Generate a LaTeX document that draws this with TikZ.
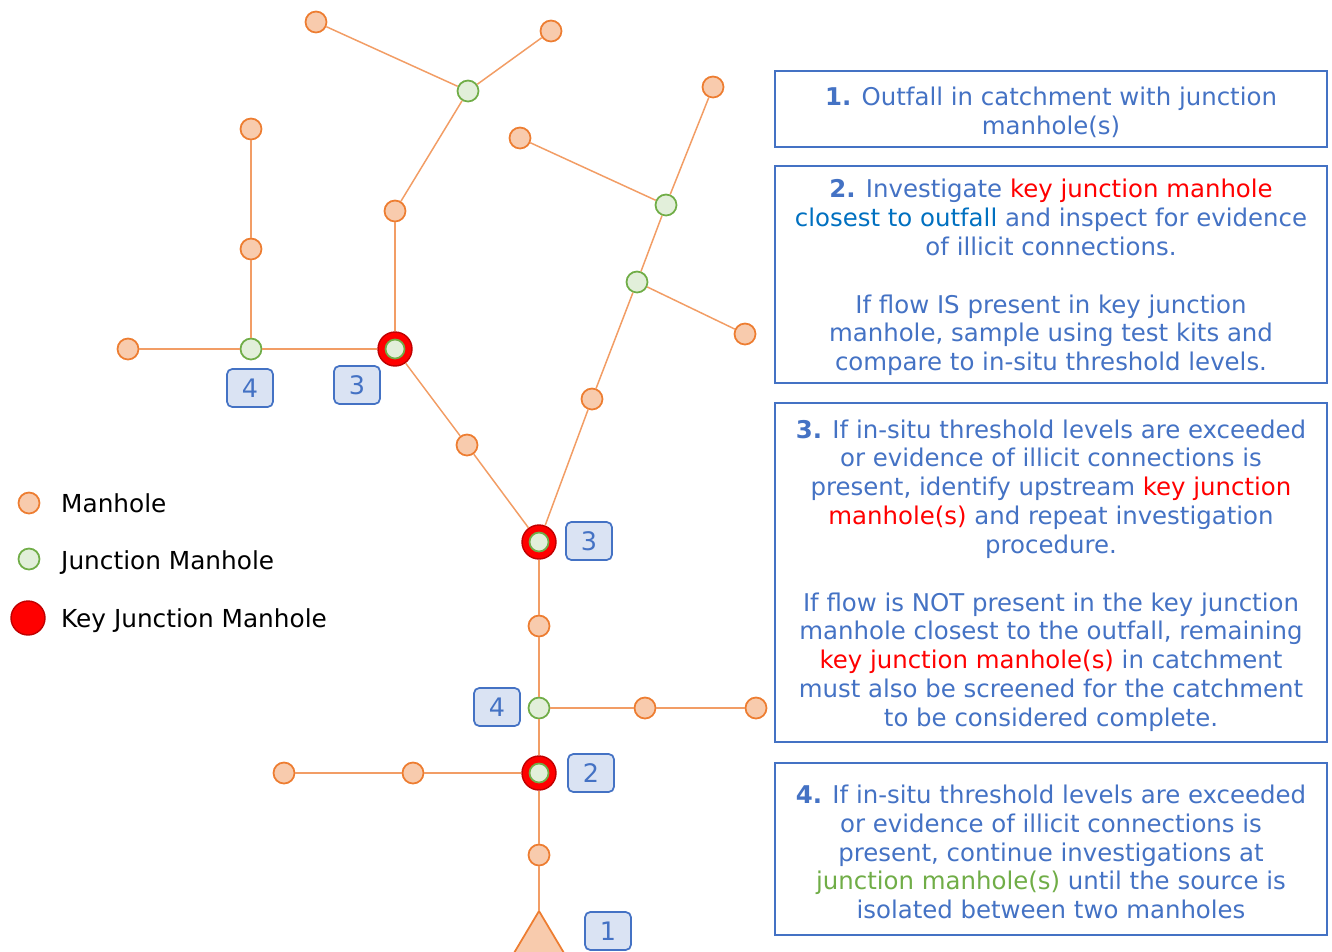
\documentclass[tikz,border=0pt]{standalone}
\usepackage{fontspec}
\setmainfont{DejaVu Sans}
\usetikzlibrary{arrows.meta}
\usetikzlibrary{positioning}

\definecolor{mhorange}{HTML}{ED7D31}
\definecolor{mhfill}{HTML}{F8CBAD}
\definecolor{jngreen}{HTML}{70AD47}
\definecolor{jnfill}{HTML}{E2EFDA}
\definecolor{keyred}{HTML}{FF0000}
\definecolor{keyedge}{HTML}{C00000}
\definecolor{txtblue}{HTML}{4472C4}
\definecolor{badgefill}{HTML}{DAE3F3}
\definecolor{linkblue}{HTML}{0070C0}

\tikzset{
  mh/.style={circle, draw=mhorange, fill=mhfill, line width=1pt, minimum size=0.42cm, inner sep=0pt},
  jn/.style={circle, draw=jngreen, fill=jnfill, line width=1pt, minimum size=0.42cm, inner sep=0pt},
  keymh/.style={circle, draw=keyedge, fill=keyred, line width=0.8pt, minimum size=0.68cm, inner sep=0pt},
  pipe/.style={draw=mhorange!75, line width=0.85pt},
  badge/.style={rectangle, rounded corners=3pt, draw=txtblue, fill=badgefill, line width=1pt,
    minimum width=0.92cm, minimum height=0.76cm, inner sep=0pt, text=txtblue,
    font=\fontsize{14.5}{16}\selectfont},
  stepbox/.style={rectangle, draw=txtblue, line width=1.1pt, minimum width=11.04cm, inner sep=0pt},
  steptext/.style={align=center, inner sep=0pt, text=txtblue, font=\fontsize{13.9}{16.4}\selectfont},
  legtext/.style={anchor=base west, font=\fontsize{14.1}{16}\selectfont}
}

\newcommand{\kjm}[1]{\textcolor{keyred}{#1}}

\begin{document}
\begin{tikzpicture}[>=Stealth, x=0.02cm, y=-0.02cm]
    \useasboundingbox (0,0) rectangle (1332,951);

    % manholes
    \foreach \n/\x/\y in {m1/316/22, m2/551/31, m3/395/211, m4/251/129, m5/251/249,
        m6/128/349, m7/713/87, m8/520/138, m9/745/334, m10/592/399, m11/467/445,
        m12/539/626, m13/645/708, m14/756/708, m15/413/773, m16/284/773, m17/539/855}
        \node[mh] (\n) at (\x,\y) {};

    % junction manholes
    \foreach \n/\x/\y in {j1/468/91, j2/251/349, j3/666/205, j4/637/282, j5/539/708}
        \node[jn] (\n) at (\x,\y) {};

    % key junction manholes
    \foreach \n/\x/\y in {k1/395/349, k2/539/542, k3/539/773} {
        \node[keymh] (\n) at (\x,\y) {};
        \node[jn, minimum size=0.38cm] at (\n) {};
    }

    % outfall
    \coordinate (out) at (539,911);
    \fill[mhfill, draw=mhorange, line width=1pt] (out) -- (564,953) -- (514,953) -- cycle;

    % pipes
    \foreach \a/\b in {m1/j1, m2/j1, j1/m3, m3/k1, k1/j2, j2/m5, m5/m4, j2/m6,
        k1/m11, m11/k2, k2/m10, m10/j4, j4/j3, j3/m7, j3/m8, j4/m9,
        k2/m12, m12/j5, j5/m13, m13/m14, j5/k3, k3/m15, m15/m16, k3/m17}
        \draw[pipe] (\a) -- (\b);
    \draw[pipe] (m17) -- (out);

    % step badges
    \node[badge] (b4a) at (250,388) {4};
    \node[badge] (b3a) at (357,385) {3};
    \node[badge] (b3b) at (589,541) {3};
    \node[badge] (b4b) at (497,707) {4};
    \node[badge] (b2) at (591,773) {2};
    \node[badge] (b1) at (608,931) {1};

    % legend
    \node[mh] (lmh) at (29,503) {};
    \node[jn] (ljn) at (29,559) {};
    \node[keymh] (lkey) at (28,618) {};
    \node[legtext] (tmh) at (55,512) {Manhole};
    \node[legtext] (tjn) at (55,569) {Junction Manhole};
    \node[legtext] (tkey) at (55,627) {Key Junction Manhole};

    % step boxes
    \node[stepbox, minimum height=1.52cm] (s1) at (1051,109) {};
    \node[stepbox, minimum height=4.34cm] (s2) at (1051,274.5) {};
    \node[stepbox, minimum height=6.78cm] (s3) at (1051,572.5) {};
    \node[stepbox, minimum height=3.44cm] (s4) at (1051,849) {};

    % step texts
    \node[steptext] (t1) at ([yshift=-0.06cm]s1.center)
        {\textbf{1.} Outfall in catchment with junction\\ manhole(s)};
    \node[steptext] (t2) at ([yshift=-0.06cm]s2.center)
        {\textbf{2.} Investigate \kjm{key junction manhole}\\
         \textcolor{linkblue}{closest to outfall} and inspect for evidence\\
         of illicit connections.\\[16.4pt]
         If flow IS present in key junction\\
         manhole, sample using test kits and\\
         compare to in-situ threshold levels.};
    \node[steptext] (t3) at ([yshift=-0.06cm]s3.center)
        {\textbf{3.} If in-situ threshold levels are exceeded\\
         or evidence of illicit connections is\\
         present, identify upstream \kjm{key junction}\\
         \kjm{manhole(s)} and repeat investigation\\
         procedure.\\[16.4pt]
         If flow is NOT present in the key junction\\
         manhole closest to the outfall, remaining\\
         \kjm{key junction manhole(s)} in catchment\\
         must also be screened for the catchment\\
         to be considered complete.};
    \node[steptext] (t4) at ([yshift=-0.06cm]s4.center)
        {\textbf{4.} If in-situ threshold levels are exceeded\\
         or evidence of illicit connections is\\
         present, continue investigations at\\
         \textcolor{jngreen}{junction manhole(s)} until the source is\\
         isolated between two manholes};

\end{tikzpicture}
\end{document}
